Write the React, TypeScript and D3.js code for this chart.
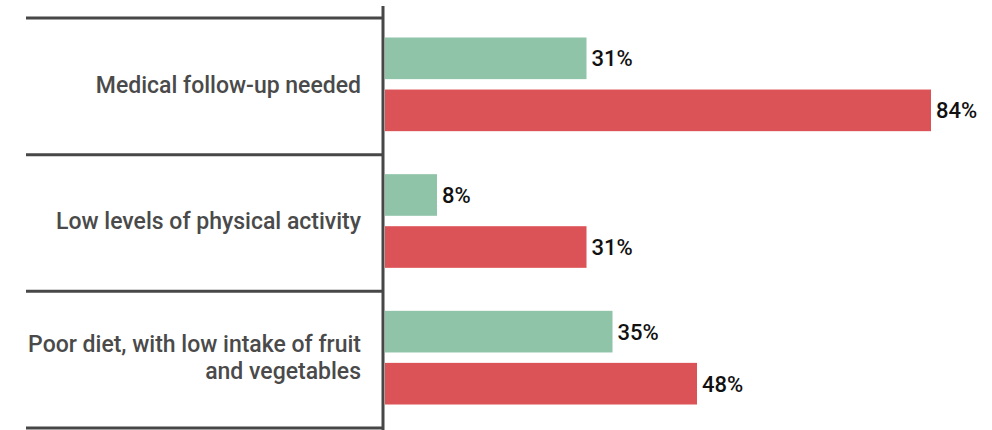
import * as d3 from "d3";
import { useEffect, useRef } from "react";

const categories = [
  ["Medical follow-up needed"],
  ["Low levels of physical activity"],
  ["Poor diet, with low intake of fruit", "and vegetables"],
];
const seriesKeys = ["green", "red"];
const greenValues = [31, 8, 35];
const redValues = [84, 31, 48];
const colors = { green: "#8fc4a9", red: "#dc5357" };

export default function App() {
  const svgRef = useRef<SVGSVGElement>(null);

  useEffect(() => {
    const svg = d3.select(svgRef.current);
    svg.selectAll("*").remove();
    const height = 430;
    const axisX = 383;

    const x = d3.scaleLinear().domain([0, 100]).range([385, 1035]);
    const y = d3
      .scaleBand()
      .domain(categories.map((c, i) => String(i)))
      .range([18, 428]);
    const inner = d3
      .scaleBand()
      .domain(seriesKeys)
      .range([19.5, y.bandwidth() - 23.5])
      .paddingInner(0.2);

    // separators
    const seps = [0, 1, 2, 3].map((i) => 18 + i * y.bandwidth());
    svg
      .selectAll("line.sep")
      .data(seps)
      .enter()
      .append("line")
      .attr("x1", 26)
      .attr("x2", axisX)
      .attr("y1", (d) => d)
      .attr("y2", (d) => d)
      .attr("stroke", "#474747")
      .attr("stroke-width", 3);

    const g = svg
      .selectAll("g.grp")
      .data(categories)
      .enter()
      .append("g")
      .attr("transform", (d, i) => `translate(0,${y(String(i))})`);

    g.each(function (d, i) {
      const grp = d3.select(this);
      const vals = { green: greenValues[i], red: redValues[i] };
      seriesKeys.forEach((k) => {
        grp
          .append("rect")
          .attr("x", x(0))
          .attr("y", inner(k))
          .attr("width", x(vals[k]) - x(0))
          .attr("height", inner.bandwidth())
          .attr("fill", colors[k]);
        grp
          .append("text")
          .attr("x", x(vals[k]) + 5)
          .attr("y", inner(k) + inner.bandwidth() / 2)
          .attr("dy", "0.36em")
          .attr("font-size", 22)
          .attr("font-weight", 500)
          .attr("fill", "#111")
          .text(vals[k] + "%");
      });
      const mid = y.bandwidth() / 2 - 2;
      const lh = 27;
      const t = grp
        .append("text")
        .attr("text-anchor", "end")
        .attr("font-size", 23)
        .attr("font-weight", 500)
        .attr("fill", "#4a4a4a");
      d.forEach((line, j) => {
        t.append("tspan")
          .attr("x", 361)
          .attr("y", mid + (j - (d.length - 1) / 2) * lh)
          .attr("dy", "0.36em")
          .text(line);
      });
    });

    svg
      .append("line")
      .attr("x1", axisX)
      .attr("x2", axisX)
      .attr("y1", 6)
      .attr("y2", height)
      .attr("stroke", "#474747")
      .attr("stroke-width", 3);
  }, []);

  return (
    <svg
      ref={svgRef}
      width={992}
      height={430}
      style={{ position: "absolute", left: 0, top: 0, fontFamily: "Roboto" }}
    />
  );
}
